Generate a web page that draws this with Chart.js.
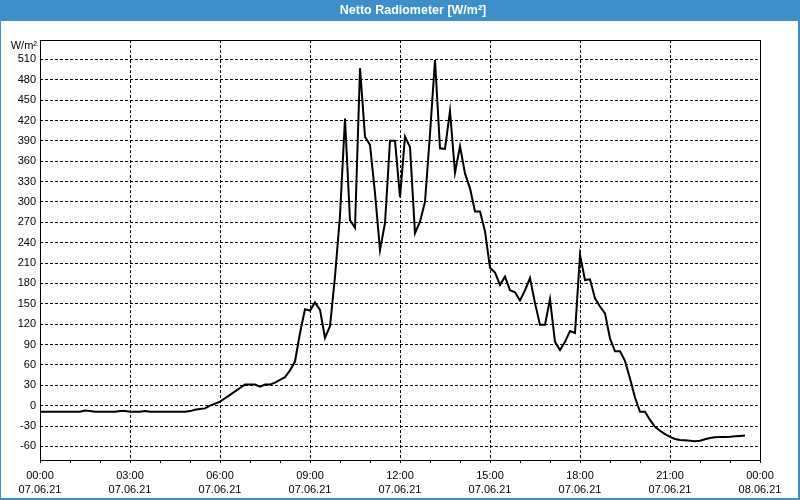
<!DOCTYPE html>
<html><head><meta charset="utf-8">
<script src="https://cdn.jsdelivr.net/npm/chart.js@4/dist/chart.umd.min.js"></script>
<style>html,body{margin:0;padding:0;background:#fff;overflow:hidden}#wrap{width:800px;height:500px;position:relative}</style>
</head><body><div id="wrap"><canvas id="c" width="800" height="500"></canvas></div>
<script>
const TITLE = "Netto Radiometer [W/m²]";
const UNIT = "W/m²";
const startMinute = 0;
const sampleStepMinutes = 10;
const radiation = [
 -9,-9,-9,-9,-9,-9,-9,-9,-9,-7,
 -8,-9,-9,-9,-9,-9,-8,-8,-9,-9,
 -9,-8,-9,-9,-9,-9,-9,-9,-9,-9,
 -8,-6,-5,-4,0,3,6,11,16,21,
 26,31,31,31,28,31,31,34,38,42,
 52,65,107,142,140,152,141,100,117,190,
 280,423,273,262,497,396,384,313,229,269,
 390,390,307,396,381,254,271,300,400,509,
 379,378,434,343,382,342,320,286,286,257,
 203,196,178,190,170,167,155,170,188,151,
 119,119,157,94,82,94,110,107,222,185,
 186,158,146,136,99,80,80,66,40,12,
 -9,-9,-21,-31,-37,-42,-46,-49,-50.5,-51,
 -51.5,-52.5,-51.5,-49.5,-47.5,-46.5,-46,-46,-45.6,-45,
 -44.5,-44
];
const tickMinutes = [0,180,360,540,720,900,1080,1260,1440];
const tickTimes = ["00:00","03:00","06:00","09:00","12:00","15:00","18:00","21:00","00:00"];
const tickDates = ["07.06.21","07.06.21","07.06.21","07.06.21","07.06.21","07.06.21","07.06.21","07.06.21","08.06.21"];

const points = radiation.map((v,i)=>({x: startMinute + i*sampleStepMinutes, y: v}));
const FONT = {family: "'Liberation Sans', Arial, sans-serif", size: 11, lineHeight: 1.36};
const BLUE = '#3d8fc7';

const framePlugin = {
  id: 'frame',
  beforeDraw(chart){
    const c = chart.ctx;
    c.save();
    c.fillStyle = '#fff';
    c.fillRect(0,0,chart.width,chart.height);
    c.fillStyle = BLUE;
    c.fillRect(0,0,chart.width,21);
    c.fillRect(0,0,1,chart.height);
    c.fillRect(chart.width-2,0,2,chart.height);
    c.fillRect(0,chart.height-2,chart.width,2);
    c.fillStyle = '#fff';
    c.font = "bold 12.5px 'Liberation Sans', Arial, sans-serif";
    c.textAlign = 'center';
    c.textBaseline = 'middle';
    c.fillText(TITLE, 413, 10.5);
    c.restore();
  },
  afterDraw(chart){
    const c = chart.ctx, a = chart.chartArea;
    c.save();
    c.strokeStyle = '#000';
    c.lineWidth = 1;
    c.strokeRect(Math.round(a.left)+0.5, Math.round(a.top)+0.5, Math.round(a.right-a.left), Math.round(a.bottom-a.top));
    c.fillStyle = '#000';
    c.font = "11px 'Liberation Sans', Arial, sans-serif";
    c.textAlign = 'right';
    c.textBaseline = 'middle';
    c.fillText(UNIT, 37, 46);
    c.restore();
  }
};

new Chart(document.getElementById('c'), {
  type: 'line',
  data: {datasets: [{data: points, borderColor: '#000', borderWidth: 2, pointRadius: 0, tension: 0, fill: false}]},
  options: {
    responsive: false, animation: false, events: [],
    plugins: {legend: {display: false}, tooltip: {enabled: false}, title: {display: false}},
    layout: {padding: {top: 40, right: 40, left: 0, bottom: 0}},
    scales: {
      x: {
        type: 'linear', min: 0, max: 1440,
        afterFit(s){ s.height = 40; },
        ticks: {
          stepSize: 60, autoSkip: false, maxRotation: 0, minRotation: 0, padding: 5,
          color: '#000', font: FONT,
          callback(v){ const k = tickMinutes.indexOf(v); return k >= 0 ? [tickTimes[k], tickDates[k]] : ''; }
        },
        grid: {
          color: ctx => (ctx.tick && ctx.tick.value % 180 === 0 && ctx.tick.value > 0 && ctx.tick.value < 1440) ? '#000' : 'rgba(0,0,0,0)',
          tickColor: '#000', tickLength: 3, drawTicks: true, lineWidth: 1
        },
        border: {display: false, dash: [3,2]}
      },
      y: {
        min: -80, max: 538.5,
        afterFit(s){ s.width = 40; },
        ticks: {stepSize: 30, includeBounds: false, padding: 4, color: '#000', font: FONT},
        grid: {color: '#000', drawTicks: false, lineWidth: 1},
        border: {display: false, dash: [3,2]}
      }
    }
  },
  plugins: [framePlugin]
});
</script></body></html>
